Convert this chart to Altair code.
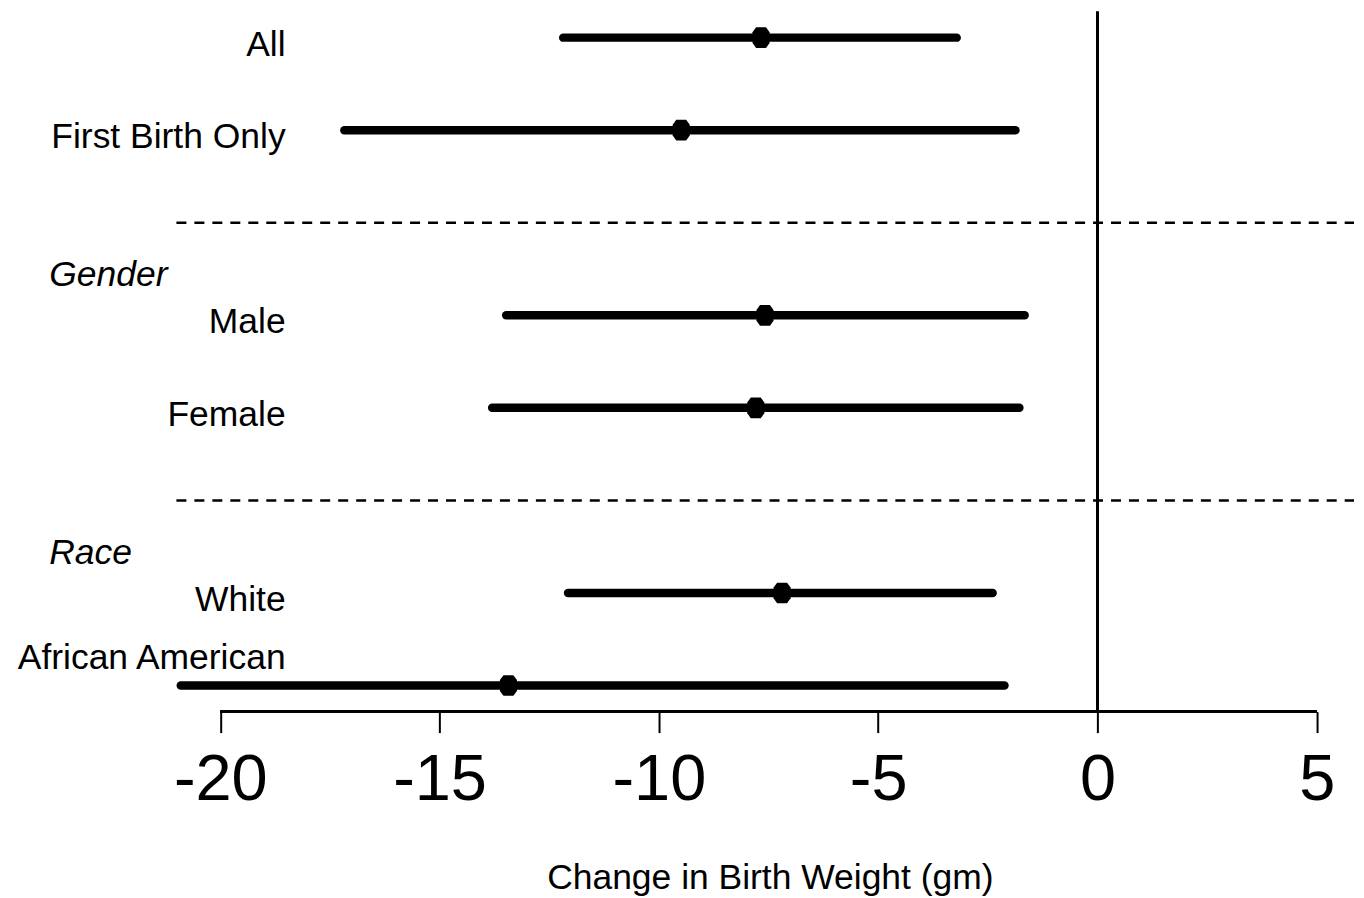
import altair as alt
import pandas as pd

# ---- data ----
labels = ["All", "First Birth Only", "Male", "Female", "White", "African American"]
rows = [0, 1, 3, 4, 6, 7]
estimate = [-7.67, -9.49, -7.58, -7.79, -7.19, -13.43]
lower = [-12.18, -17.17, -13.48, -13.80, -12.07, -20.9]
upper = [-3.21, -1.87, -1.66, -1.78, -2.39, -2.12]
groups = ["Gender", "Race"]
group_rows = [3, 6]
separator_rows = [2, 5]
ticks = [-20, -15, -10, -5, 0, 5]

# ---- layout / style ----
X_DOMAIN = [-24.84, 5.85]
Y_DOMAIN = [-0.313, 7.282]
W, H = 1348, 704
FONT = "Liberation Sans"
TITLE = "Change in Birth Weight (gm)"

df = pd.DataFrame({"label": labels, "row": rows, "est": estimate, "lo": lower, "hi": upper})
gdf = pd.DataFrame({"label": groups, "row": group_rows})
sdf = pd.DataFrame({"row": separator_rows})

xs = alt.Scale(domain=X_DOMAIN, nice=False, zero=False)
ys = alt.Scale(domain=Y_DOMAIN, reverse=True, nice=False, zero=False)

AXIS = alt.Axis(
    values=ticks, domain=False, grid=False, ticks=True, tickSize=21, tickWidth=2,
    tickColor="black", labelFont=FONT, labelFontSize=65, labelColor="black",
    labelPadding=16, labelExpr="'' + datum.value", labelFlush=False, labelOverlap=False,
    titleFont=FONT, titleFontSize=35.5, titleFontWeight="normal", titleColor="black",
    titleX=763, titleY=177, titleAlign="center", titleBaseline="alphabetic",
)


def X(field=None, datum=None):
    if field is not None:
        return alt.X(field, scale=xs, axis=AXIS, title=TITLE)
    return alt.X(datum=datum, scale=xs, axis=AXIS, title=TITLE)


def Y(field=None, datum=None):
    if field is not None:
        return alt.Y(field, scale=ys, axis=None)
    return alt.Y(datum=datum, scale=ys, axis=None)


base = alt.Chart(df)

zero_line = alt.Chart(df).mark_rule(color="black", strokeWidth=2.5).encode(
    x=X(datum=0), y=Y(datum=-0.28), y2=alt.datum(Y_DOMAIN[1])
)

axis_line = alt.Chart(df).mark_rule(color="black", strokeWidth=2).encode(
    x=X(datum=ticks[0]), x2=alt.datum(ticks[-1]), y=Y(datum=Y_DOMAIN[1])
)

separators = alt.Chart(sdf).mark_rule(color="black", strokeWidth=2.5, strokeDash=[10, 8]).encode(
    x=X(datum=-21), x2=alt.datum(X_DOMAIN[1]), y=Y("row:Q")
)

ci = base.mark_rule(color="black", strokeWidth=8.5, strokeCap="round").encode(
    x=X("lo:Q"), x2="hi:Q", y=Y("row:Q")
)

OCT = "M-0.55,-1.15L0.55,-1.15L0.95,-0.6L0.95,0.6L0.55,1.15L-0.55,1.15L-0.95,0.6L-0.95,-0.6Z"
pts = base.mark_point(shape=OCT, filled=True, size=324, color="black", opacity=1).encode(
    x=X("est:Q"), y=Y("row:Q")
)

lab_below = base.transform_filter("datum.label !== 'African American'").mark_text(
    align="right", baseline="alphabetic", dy=18, font=FONT, fontSize=35.5, color="black"
).encode(x=X(datum=-18.51), y=Y("row:Q"), text="label:N")

lab_above = base.transform_filter("datum.label === 'African American'").mark_text(
    align="right", baseline="alphabetic", dy=-17, font=FONT, fontSize=35.5, color="black"
).encode(x=X(datum=-18.51), y=Y("row:Q"), text="label:N")

headers = alt.Chart(gdf).mark_text(
    align="left", baseline="alphabetic", dy=-29, font=FONT, fontSize=35.5,
    fontStyle="italic", color="black"
).encode(x=X(datum=-23.9), y=Y("row:Q"), text="label:N")

chart = alt.layer(
    zero_line, axis_line, separators, ci, pts, lab_below, lab_above, headers
).properties(
    width=W, height=H, padding=0, background="white"
).configure_view(stroke=None)

chart.save("out.html", embed_options={"renderer": "svg", "actions": False})
